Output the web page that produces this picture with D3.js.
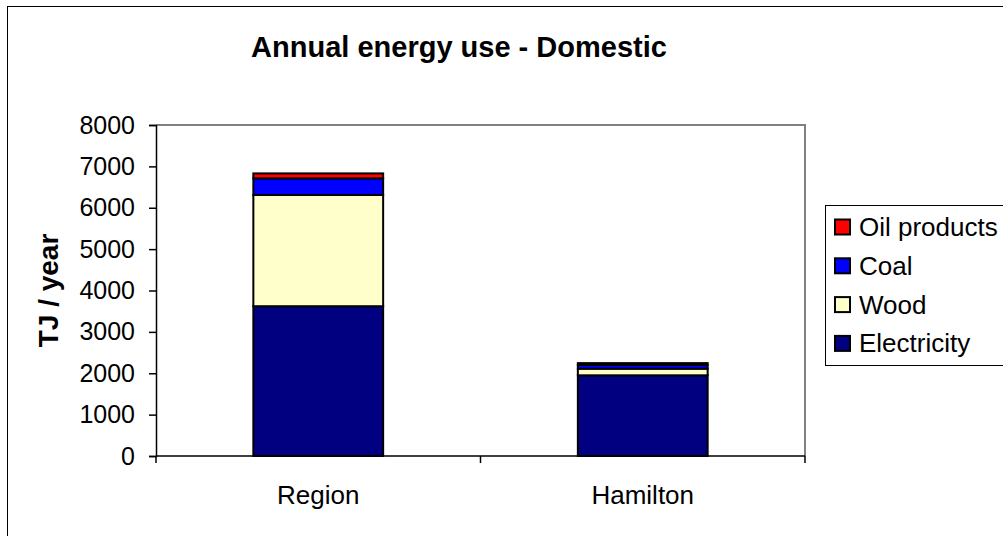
<!DOCTYPE html>
<html>
<head>
<meta charset="utf-8">
<script src="https://cdn.jsdelivr.net/npm/d3@7"></script>
<style>
  html, body { margin: 0; padding: 0; background: #fff; }
  svg { display: block; font-family: "Liberation Sans", Arial, sans-serif; }
</style>
</head>
<body>
<svg id="chart" width="1003" height="536"></svg>
<script>
// Annual domestic energy use (TJ / year), stacked by fuel type
const categories = ["Region", "Hamilton"];
const fuels = ["Electricity", "Wood", "Coal", "Oil products"];
const electricity = [3620, 1950];
const wood = [2690, 160];
const coal = [400, 90];
const oilProducts = [120, 45];
const yTicks = [0, 1000, 2000, 3000, 4000, 5000, 6000, 7000, 8000];
const fuelColors = ["#000080", "#ffffcc", "#0000ff", "#ff0000"];

const seriesValues = [electricity, wood, coal, oilProducts];
const rows = categories.map((c, i) => {
  const r = { category: c };
  fuels.forEach((f, j) => { r[f] = seriesValues[j][i]; });
  return r;
});

const svg = d3.select("#chart");

// outer chart frame
svg.append("rect")
  .attr("x", 7.5).attr("y", 6.5)
  .attr("width", 1010).attr("height", 540)
  .attr("fill", "#fff").attr("stroke", "#000").attr("stroke-width", 1);

const plot = { left: 156, right: 805, top: 125, bottom: 456 };

const x = d3.scaleBand().domain(categories)
  .range([plot.left, plot.right]).paddingInner(0.6).paddingOuter(0.3);
const xOuter = d3.scaleBand().domain(categories).range([plot.left, plot.right]);
const y = d3.scaleLinear().domain([0, 8000]).range([plot.bottom, plot.top]);
const color = d3.scaleOrdinal().domain(fuels).range(fuelColors);

// plot area frame (grey top and right edges)
svg.append("path")
  .attr("d", `M${plot.left},${plot.top}H${plot.right}V${plot.bottom}`)
  .attr("fill", "none").attr("stroke", "#808080").attr("stroke-width", 2);

// stacked bars
const stacked = d3.stack().keys(fuels)(rows);
svg.append("g").selectAll("g")
  .data(stacked).join("g")
  .attr("fill", d => color(d.key))
  .selectAll("rect")
  .data(d => d).join("rect")
  .attr("x", d => x(d.data.category))
  .attr("width", x.bandwidth())
  .attr("y", d => y(d[1]))
  .attr("height", d => y(d[0]) - y(d[1]))
  .attr("stroke", "#000").attr("stroke-width", 2);

// y axis
const yAxis = svg.append("g")
  .attr("transform", `translate(${plot.left},0)`)
  .call(d3.axisLeft(y).tickValues(yTicks).tickSize(7).tickPadding(14).tickFormat(d3.format("d")));
yAxis.select(".domain").attr("stroke", "#000").attr("stroke-width", 1.5);
yAxis.selectAll(".tick line").attr("stroke", "#000").attr("stroke-width", 1.5);
yAxis.selectAll("text").attr("font-size", 25).attr("fill", "#000")
  .attr("font-family", "Liberation Sans, Arial, sans-serif");

// x axis with ticks between categories
const xAxisG = svg.append("g").attr("transform", `translate(0,${plot.bottom})`);
xAxisG.append("line")
  .attr("x1", plot.left).attr("x2", plot.right)
  .attr("stroke", "#000").attr("stroke-width", 1.5);
const boundaries = categories.map(c => xOuter(c)).concat([plot.right]);
xAxisG.selectAll("line.tick").data(boundaries).join("line")
  .attr("class", "tick")
  .attr("x1", d => d).attr("x2", d => d)
  .attr("y1", 0).attr("y2", 7)
  .attr("stroke", "#000").attr("stroke-width", 1.5);
xAxisG.selectAll("text").data(categories).join("text")
  .attr("x", d => xOuter(d) + xOuter.bandwidth() / 2)
  .attr("y", 48)
  .attr("text-anchor", "middle")
  .attr("font-size", 26).attr("fill", "#000")
  .text(d => d);

// title
svg.append("text")
  .attr("x", 459).attr("y", 57)
  .attr("text-anchor", "middle")
  .attr("font-size", 29).attr("font-weight", "bold")
  .text("Annual energy use - Domestic");

// y axis title
svg.append("text")
  .attr("transform", `translate(58,${(plot.top + plot.bottom) / 2}) rotate(-90)`)
  .attr("text-anchor", "middle")
  .attr("font-size", 28).attr("font-weight", "bold")
  .text("TJ / year");

// legend (top entry is the top of the stack)
const legendItems = fuels.slice().reverse();
const legend = svg.append("g");
legend.append("rect")
  .attr("x", 825.5).attr("y", 205.5)
  .attr("width", 200).attr("height", 160)
  .attr("fill", "#fff").attr("stroke", "#000").attr("stroke-width", 1);
const li = legend.selectAll("g.item").data(legendItems).join("g")
  .attr("class", "item")
  .attr("transform", (d, i) => `translate(0,${227 + i * 38.8})`);
li.append("rect")
  .attr("x", 835).attr("y", -7.5)
  .attr("width", 15).attr("height", 15)
  .attr("fill", d => color(d))
  .attr("stroke", "#000").attr("stroke-width", 2);
li.append("text")
  .attr("x", 859).attr("y", 9)
  .attr("font-size", 26).attr("fill", "#000")
  .text(d => d);
</script>
</body>
</html>
